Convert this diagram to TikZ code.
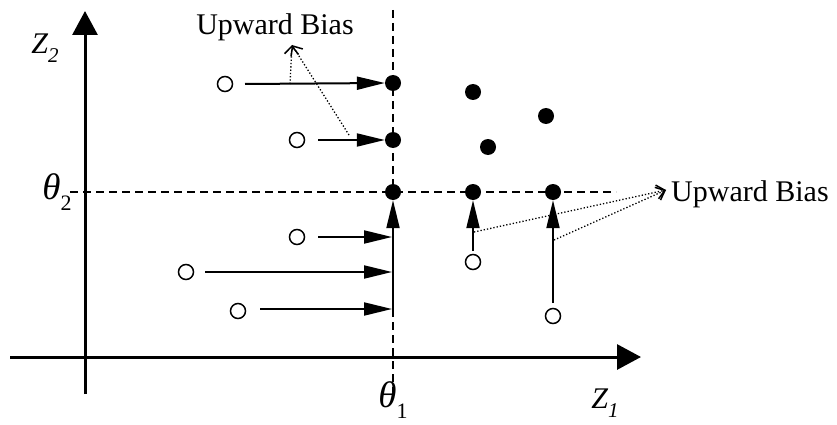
\documentclass[tikz,border=0pt]{standalone}
\usepackage{fontspec}
\setmainfont{Liberation Serif}
\usetikzlibrary{arrows.meta}
\newcommand{\subidx}[2]{\raisebox{-0.3em}{\fontsize{#1}{#1}\selectfont #2}}
\begin{document}
\begin{tikzpicture}[x=1pt,y=-1pt,
  fdot/.style={circle,fill=black,inner sep=0pt,minimum size=16pt},
  odot/.style={circle,draw=black,line width=1.5pt,fill=white,inner sep=0pt,minimum size=15pt},
  axisarrow/.style={line width=3pt,-{Triangle[length=24pt,width=25pt]}},
  movearrow/.style={line width=2pt,-{Triangle[length=28pt,width=13pt]}},
  guide/.style={line width=1.3pt,dash pattern=on 8pt off 5pt},
  bias/.style={line width=1.3pt,dotted,-{Straight Barb[length=8pt,width=14pt,line width=1.5pt]}},
  lbl/.style={font=\fontsize{30}{34}\selectfont,inner sep=0pt},
  thlbl/.style={font=\fontsize{37}{40}\selectfont,inner sep=0pt}]
\useasboundingbox (0,0) rectangle (837,425);
% guides
\coordinate (vtop) at (393,10);
\coordinate (vbot) at (393,392);
\coordinate (hl) at (70,192);
\coordinate (hr) at (616,192);
\draw[guide] (vtop) -- (vbot);
\draw[guide] (hl) -- (hr);
% axes
\coordinate (xs) at (10,357);
\coordinate (xe) at (641,357);
\coordinate (ys) at (85,394);
\coordinate (ye) at (85,11);
\draw[axisarrow] (xs) -- (xe);
\draw[axisarrow] (ys) -- (ye);
% labels
\node[lbl] (z2) at (45,48) {\itshape Z\subidx{21}{2}};
\node[lbl] (z1) at (605,403) {\itshape Z\subidx{21}{1}};
\node[thlbl] (t2) at (57,192) {\itshape θ\subidx{22}{\upshape 2}};
\node[thlbl] (t1) at (393,400) {\itshape θ\subidx{22}{\upshape 1}};
\node[lbl] (ubt) at (275,27) {Upward Bias};
\node[lbl,anchor=west] (ubr) at (671,194) {Upward Bias};
% filled dots
\node[fdot] (f1) at (393,83) {};
\node[fdot] (f2) at (393,140) {};
\node[fdot] (f3) at (393,192) {};
\node[fdot] (f4) at (473,192) {};
\node[fdot] (f5) at (553,192) {};
\node[fdot] (f6) at (473,92) {};
\node[fdot] (f7) at (546,116) {};
\node[fdot] (f8) at (488,147) {};
% open circles
\node[odot] (o1) at (225,84) {};
\node[odot] (o2) at (297,140) {};
\node[odot] (o3) at (297,237) {};
\node[odot] (o4) at (186,272) {};
\node[odot] (o5) at (238,311) {};
\node[odot] (o6) at (473,262) {};
\node[odot] (o7) at (553,316) {};
% horizontal shift arrows
\coordinate (s1) at (245,84);
\coordinate (s2) at (318,140);
\coordinate (s3) at (318,237);
\coordinate (s4) at (205,272);
\coordinate (s5) at (260,309);
\coordinate (e3) at (392,237);
\coordinate (e4) at (392,272);
\coordinate (e5) at (392,309);
\draw[movearrow] (s1) -- (f1.west);
\draw[movearrow] (s2) -- (f2.west);
\draw[movearrow] (s3) -- (e3);
\draw[movearrow] (s4) -- (e4);
\draw[movearrow] (s5) -- (e5);
% vertical shift arrows
\coordinate (v3) at (393,309);
\coordinate (v4) at (473,251);
\coordinate (v5) at (553,303);
\draw[movearrow] (v3) -- (f3.south);
\draw[movearrow] (v4) -- (f4.south);
\draw[movearrow] (v5) -- (f5.south);
% bias pointers
\coordinate (bt) at (292,45);
\coordinate (b1) at (290,84);
\coordinate (b2) at (349,135);
\coordinate (br) at (666,190);
\coordinate (b3) at (474,232);
\coordinate (b4) at (554,240);
\draw[bias] (b1) -- (bt);
\draw[bias] (b2) -- (bt);
\draw[bias] (b3) -- (br);
\draw[bias] (b4) -- (br);
\end{tikzpicture}
\end{document}
